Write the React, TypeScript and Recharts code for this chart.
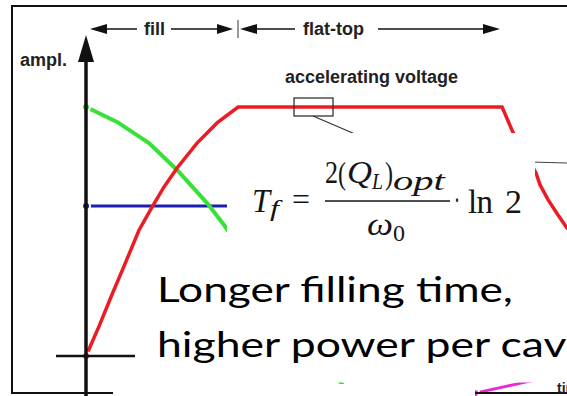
import { LineChart, Line, XAxis, YAxis } from 'recharts';

// time in arbitrary units (filling ends at t = 100), amplitude normalised to the flat-top
const redTime = [0, 8.6, 16.4, 25, 34.9, 43.4, 51.3, 59.9, 73, 86.2, 100, 273.7, 281, 290, 296, 298.7, 304, 310.5, 316.4, 325];
const redAmp = [0, 0.12, 0.237, 0.361, 0.506, 0.598, 0.679, 0.755, 0.855, 0.936, 1, 1, 0.896, 0.8, 0.735, 0.687, 0.627, 0.566, 0.514, 0.47];

const greenTime = [0, 20.4, 41.4, 59.9, 79.6, 90.8, 101.3, 130, 167.8, 180];
const greenAmp = [1, 0.94, 0.855, 0.747, 0.614, 0.526, 0.434, 0.2, -0.108, -0.2];

const blueTime = [0, 200];
const blueAmp = [0.602, 0.602];

const magentaTime = [255.9, 286.8, 312];
const magentaAmp = [-0.149, -0.108, -0.075];

const yLabel = 'ampl.';
const fillLabel = 'fill';
const flatLabel = 'flat-top';
const voltageLabel = 'accelerating voltage';
const timeLabel = 'time';
const noteLines = ['Longer filling time,', 'higher power per cavity'];

const toRows = (ts: number[], as: number[]) => ts.map((t, i) => ({ t, a: as[i] }));

const W = 567;
const H = 396;
const sans = '"Liberation Sans", Arial, sans-serif';
const serif = '"Liberation Serif", "Times New Roman", serif';

// one piece of the formula, fitted to a given width
function Glyph(props: { x: number; y: number; w: number; size: number; italic?: boolean; spread?: boolean; children: string }) {
  return (
    <text
      x={props.x}
      y={props.y}
      fontSize={props.size}
      fontStyle={props.italic ? 'italic' : 'normal'}
      textLength={props.w}
      lengthAdjust={props.spread ? 'spacing' : 'spacingAndGlyphs'}
    >
      {props.children}
    </text>
  );
}

function Overlay() {
  return (
    <svg width={W} height={H} style={{ position: 'absolute', left: 0, top: 0, pointerEvents: 'none' }}>
      {/* figure frame */}
      <rect x={12} y={6} width={620} height={387} fill="none" stroke="#111" strokeWidth={2} />
      {/* amplitude axis with arrow */}
      <line x1={86} y1={58} x2={86} y2={H} stroke="#111" strokeWidth={3.5} />
      <polygon points="86,35 78,62 94,62" fill="#111" />
      <line x1={56} y1={356} x2={150} y2={356} stroke="#111" strokeWidth={2.5} />
      <text x={20} y={66} fontFamily={sans} fontWeight="bold" fontSize={18} fill="#222">{yLabel}</text>

      {/* fill / flat-top span arrows */}
      <polygon points="90,29 107,24 107,34" fill="#111" />
      <line x1={105} y1={29} x2={137} y2={29} stroke="#111" strokeWidth={1.5} />
      <text x={144} y={35} fontFamily={sans} fontWeight="bold" fontSize={18} fill="#222">{fillLabel}</text>
      <line x1={171} y1={29} x2={220} y2={29} stroke="#111" strokeWidth={1.5} />
      <polygon points="233,29 217,24 217,34" fill="#111" />
      <line x1={238} y1={20} x2={238} y2={38} stroke="#555" strokeWidth={1.2} />
      <polygon points="240,29 257,24 257,34" fill="#111" />
      <line x1={255} y1={29} x2={295} y2={29} stroke="#111" strokeWidth={1.5} />
      <text x={303} y={35} fontFamily={sans} fontWeight="bold" fontSize={18} fill="#222">{flatLabel}</text>
      <line x1={378} y1={29} x2={486} y2={29} stroke="#111" strokeWidth={1.5} />
      <polygon points="500,29 483,24 483,34" fill="#111" />

      <text x={285} y={83} fontFamily={sans} fontWeight="bold" fontSize={18} fill="#222">{voltageLabel}</text>
      <rect x={294} y={98} width={39} height={18} fill="none" stroke="#333" strokeWidth={1.3} />
      <line x1={313} y1={116} x2={355} y2={134} stroke="#333" strokeWidth={1.3} />
      <line x1={530} y1={162} x2={W} y2={163} stroke="#444" strokeWidth={1.2} />

      {/* pasted boxes */}
      <rect x={227} y={133} width={308} height={118} fill="#fff" />
      <rect x={135} y={250} width={W - 135} height={132.5} fill="#fff" />
      <rect x={113} y={384} width={362} height={12} fill="#fff" />

      {/* filling time formula */}
      <g fontFamily={serif} fill="#151515">
        <Glyph x={252} y={212} w={18} size={33} italic>T</Glyph>
        <Glyph x={270} y={216} w={9} size={23} italic>f</Glyph>
        <Glyph x={292} y={210} w={18} size={32}>=</Glyph>
        <Glyph x={325} y={183} w={13} size={32}>2</Glyph>
        <Glyph x={338} y={184} w={8} size={32}>(</Glyph>
        <Glyph x={347} y={183} w={25} size={32} italic>Q</Glyph>
        <Glyph x={372} y={189} w={11} size={23} italic>L</Glyph>
        <Glyph x={385} y={184} w={8} size={32}>)</Glyph>
        <text transform="translate(393,190) scale(1.45,1)" fontSize={28} fontStyle="italic">opt</text>
        <line x1={325} y1={201} x2={450} y2={201} stroke="#151515" strokeWidth={1.6} />
        <Glyph x={367} y={235} w={26} size={32} italic>ω</Glyph>
        <Glyph x={393} y={241} w={12} size={23}>0</Glyph>
        <Glyph x={454} y={211} w={6} size={32}>·</Glyph>
        <Glyph x={468} y={213} w={25} size={33} spread>ln</Glyph>
        <Glyph x={505} y={213} w={17} size={33}>2</Glyph>
      </g>

      <g fontFamily="Lato, sans-serif" fontSize={34} fill="#000">
        <text transform="translate(157,302) scale(1.3,1)">{noteLines[0]}</text>
        <text transform="translate(157,357) scale(1.31,1)">{noteLines[1]}</text>
      </g>

      <text x={557} y={393} fontFamily={sans} fontWeight="bold" fontSize={14} fill="#222">{timeLabel}</text>
    </svg>
  );
}

export default function App() {
  return (
    <div style={{ position: 'absolute', left: 0, top: 0, width: W, height: H, background: '#fff', overflow: 'hidden' }}>
      <LineChart width={W} height={H} margin={{ top: 0, right: 0, bottom: 0, left: 0 }}>
        <XAxis type="number" dataKey="t" domain={[-56.6, 316.4]} allowDataOverflow hide />
        <YAxis type="number" domain={[-0.1606, 1.4297]} allowDataOverflow hide />
        <Line data={toRows(blueTime, blueAmp)} dataKey="a" type="linear" stroke="#1c1fb0" strokeWidth={3} dot={false} isAnimationActive={false} />
        <Line data={toRows(greenTime, greenAmp)} dataKey="a" type="linear" stroke="#38e038" strokeWidth={4} dot={false} isAnimationActive={false} />
        <Line data={toRows(magentaTime, magentaAmp)} dataKey="a" type="linear" stroke="#e52bd8" strokeWidth={3} dot={false} isAnimationActive={false} />
        <Line data={toRows(redTime, redAmp)} dataKey="a" type="linear" stroke="#ec1c24" strokeWidth={3.5} dot={false} isAnimationActive={false} />
      </LineChart>
      <Overlay />
    </div>
  );
}
